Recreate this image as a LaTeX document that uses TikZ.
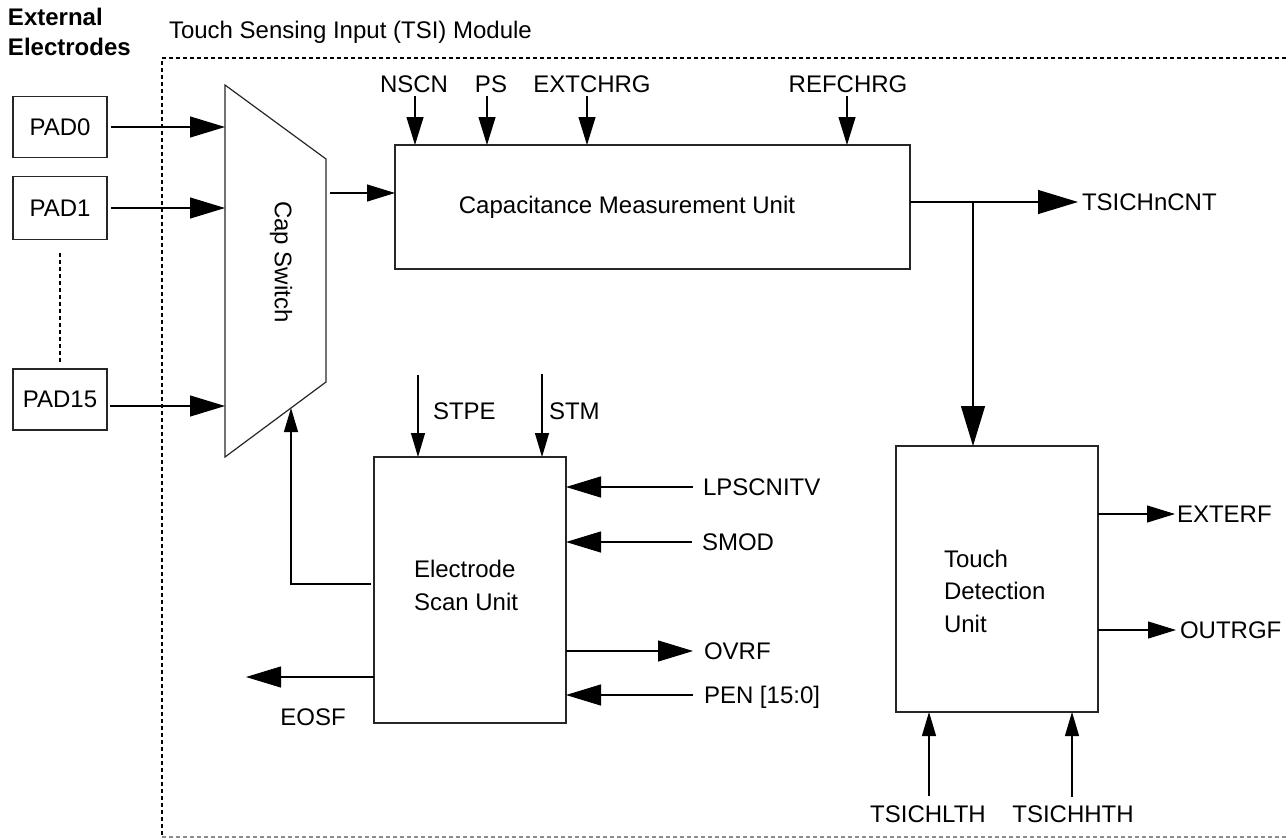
\documentclass[tikz,border=0pt]{standalone}
\usepackage{fontspec}
\setmainfont{Liberation Sans}
\usetikzlibrary{arrows.meta}
\begin{document}
\begin{tikzpicture}[x=1pt,y=-1pt,
  every node/.style={font=\fontsize{24}{32.5}\selectfont, inner sep=0pt, outer sep=0pt},
  lbl/.style={text height=17.2pt, text depth=0pt},
  box/.style={draw=black!85, line width=1.3pt, fill=white},
  conn/.style={line width=1.15pt},
  tipS/.style={-{Triangle[length=24pt,width=14pt]}},
  tipM/.style={-{Triangle[length=28pt,width=17pt]}},
  tipL/.style={-{Triangle[length=35pt,width=21pt]}},
  tipXL/.style={-{Triangle[length=40pt,width=24pt]}},
  frame/.style={line width=1.2pt, dash pattern=on 4pt off 3pt}
]
\useasboundingbox (0,0) rectangle (1286,838);

% frame of the TSI module
\draw[frame] (1286,58) -- (162,58) -- (162,837);
\draw[frame, black!45] (162,837) -- (1286,837);

% titles
\node[anchor=north west, align=left, font=\fontsize{24}{30}\selectfont\bfseries] (ext) at (8,8) {External\\Electrodes};
\node[lbl, anchor=west] (ttl) at (169,30) {Touch Sensing Input (TSI) Module};

% pads
\node[box, minimum width=94pt, minimum height=61pt] (pad0) at (60,127) {PAD0};
\node[box, minimum width=94pt, minimum height=63pt] (pad1) at (60,208) {PAD1};
\node[box, minimum width=94pt, minimum height=61pt] (pad15) at (60,399.5) {PAD15};
\draw[frame] ([yshift=-13pt]pad1.south) -- ([yshift=6pt]pad15.north);

% cap switch
\coordinate (csTL) at (225,85);
\coordinate (csTR) at (326,159);
\coordinate (csBR) at (326,382);
\coordinate (csBL) at (225,457);
\draw[line width=1.2pt, draw=black!85] (csTL) -- (csTR) -- (csBR) -- (csBL) -- cycle;
\node[rotate=-90] (capsw) at (281,262) {Cap Switch};
\coordinate (cs0) at (225,127);
\coordinate (cs1) at (225,208);
\coordinate (cs15) at (225,406);
\coordinate (csout) at (330,193);
\coordinate (fb) at (291,408);

\draw[conn, tipL, shorten <=4pt] (pad0.east) -- (cs0);
\draw[conn, tipL, shorten <=4pt] (pad1.east) -- (cs1);
\draw[conn, tipL, shorten <=3pt] (pad15.east |- cs15) -- (cs15);

% capacitance measurement unit
\node[box, minimum width=515pt, minimum height=124pt] (cmu) at (652.5,207) {};
\node[lbl] (cmutxt) at (627,205) {Capacitance Measurement Unit};
\draw[conn, tipM] (csout) -- (cmu.west |- csout);

\node[lbl] (nscn) at (414,84) {NSCN};
\node[lbl] (ps) at (491,84) {PS};
\node[lbl] (extchrg) at (592,84) {EXTCHRG};
\node[lbl] (refchrg) at (848,84) {REFCHRG};
\coordinate (nscnS) at (415,96);
\coordinate (psS) at (487,96);
\coordinate (extS) at (587,96);
\coordinate (refS) at (847,96);
\draw[conn, tipM] (nscnS) -- (cmu.north -| nscnS);
\draw[conn, tipM] (psS) -- (cmu.north -| psS);
\draw[conn, tipM] (extS) -- (cmu.north -| extS);
\draw[conn, tipM] (refS) -- (cmu.north -| refS);

% touch detection unit
\node[box, minimum width=202pt, minimum height=266pt] (tdu) at (997,579) {};
\node[anchor=west, align=left] (tdutxt) at (944,591) {Touch\\Detection\\Unit};

\node[lbl, anchor=west] (tsicnt) at (1082,202) {TSICHnCNT};
\coordinate (cmuO) at (cmu.east |- tsicnt.west);
\coordinate (br) at (973,202);
\draw[conn, tipXL, shorten >=4pt] (cmuO) -- (tsicnt.west);
\draw[conn, tipXL] (br) -- (tdu.north -| br);

\node[lbl, anchor=west] (exterf) at (1177,514) {EXTERF};
\node[lbl, anchor=west] (outrgf) at (1180,630) {OUTRGF};
\draw[conn, tipM, shorten >=2pt] (tdu.east |- exterf.west) -- (exterf.west);
\draw[conn, tipM, shorten >=4pt] (tdu.east |- outrgf.west) -- (outrgf.west);

\node[lbl] (lth) at (928,814) {TSICHLTH};
\node[lbl] (hth) at (1073,814) {TSICHHTH};
\coordinate (lthS) at (929,796);
\coordinate (hthS) at (1072,797);
\draw[conn, tipS] (lthS) -- (tdu.south -| lthS);
\draw[conn, tipS] (hthS) -- (tdu.south -| hthS);

% electrode scan unit
\node[box, minimum width=192pt, minimum height=266pt] (esu) at (470,590) {};
\node[anchor=west, align=left] (esutxt) at (414,585.5) {Electrode\\Scan Unit};

\node[lbl, anchor=west] (stpe) at (433,411) {STPE};
\node[lbl, anchor=west] (stm) at (549,411) {STM};
\coordinate (stpeS) at (418,375);
\coordinate (stmS) at (542,374);
\draw[conn, tipS] (stpeS) -- (esu.north -| stpeS);
\draw[conn, tipS] (stmS) -- (esu.north -| stmS);

\draw[conn, tipS, shorten <=3pt] (esu.west |- 0,584) -| (fb);

\coordinate (eosfT) at (246,677);
\draw[conn, tipL] (esu.west |- eosfT) -- (eosfT);
\node[lbl] (eosf) at (313,717) {EOSF};

\node[lbl, anchor=west] (lpsc) at (703,487) {LPSCNITV};
\node[lbl, anchor=west] (smod) at (702,542) {SMOD};
\node[lbl, anchor=west] (ovrf) at (704,651) {OVRF};
\node[lbl, anchor=west] (pen) at (704,695) {PEN [15:0]};
\draw[conn, tipL] ([xshift=-10pt]lpsc.west) -- (esu.east |- lpsc.west);
\draw[conn, tipL] ([xshift=-10pt]smod.west) -- (esu.east |- smod.west);
\draw[conn, tipL, shorten >=11pt] (esu.east |- ovrf.west) -- (ovrf.west);
\draw[conn, tipL] ([xshift=-11pt]pen.west) -- (esu.east |- pen.west);
\end{tikzpicture}
\end{document}
